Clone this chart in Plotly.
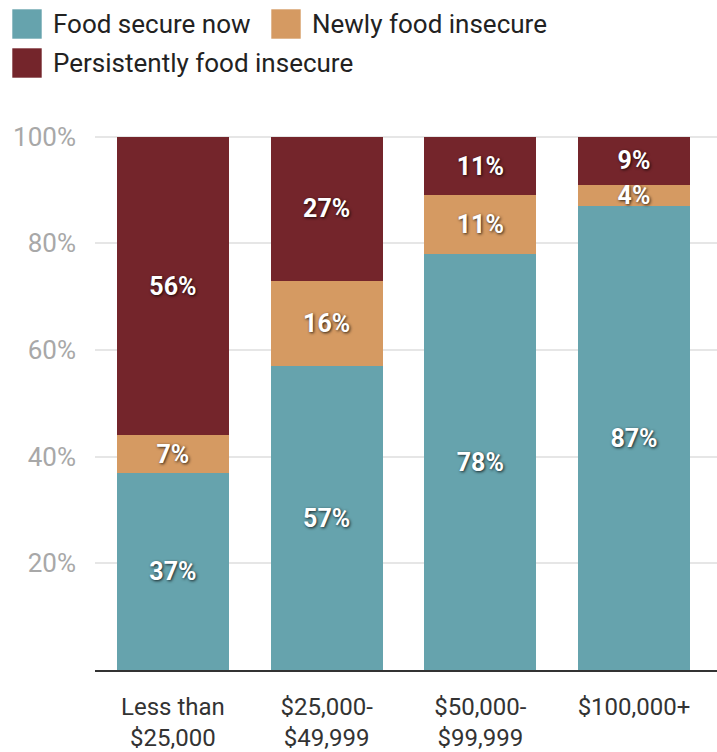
import plotly.graph_objects as go

# Income groups and food-security shares (percent of each group)
categories = ["Less than<br>$25,000", "$25,000-<br>$49,999", "$50,000-<br>$99,999", "$100,000+"]
food_secure_now = [37, 57, 78, 87]
newly_insecure = [7, 16, 11, 4]
persistently_insecure = [56, 27, 11, 9]

series_names = ["Food secure now", "Newly food insecure", "Persistently food insecure"]
series_values = [food_secure_now, newly_insecure, persistently_insecure]
series_colors = ["#66a3ad", "#d59a62", "#74252b"]

y_ticks = [20, 40, 60, 80, 100]
y_tick_labels = [f"{v}%" for v in y_ticks]

W, H = 717, 752
M_L, M_R, M_T, M_B = 95, 0, 126, 82
plot_w = W - M_L - M_R
plot_h = H - M_T - M_B

fig = go.Figure()
x_idx = list(range(len(categories)))
for name, vals, color in zip(series_names, series_values, series_colors):
    fig.add_trace(go.Bar(
        x=x_idx, y=vals, name=name,
        marker=dict(color=color, line=dict(width=0)),
        text=[f"{v}%" for v in vals],
        textposition="inside",
        insidetextanchor="middle",
        textangle=0,
        constraintext="none",
        textfont=dict(family="Roboto", size=25, color="white", weight="bold",
                      shadow="1px 1px 3px rgba(0,0,0,0.8)"),
        showlegend=False,
        hoverinfo="skip",
    ))


def px_to_paper_x(px):
    return (px - M_L) / plot_w


def px_to_paper_y(py):
    return (H - M_B - py) / plot_h


# Hand-built legend with large colour swatches
legend_slots = [(12, 9), (271, 9), (12, 48)]
shapes = []
annotations = []
for (sx, sy), name, color in zip(legend_slots, series_names, series_colors):
    shapes.append(dict(
        type="rect", xref="paper", yref="paper",
        x0=px_to_paper_x(sx), x1=px_to_paper_x(sx + 30),
        y0=px_to_paper_y(sy), y1=px_to_paper_y(sy + 30),
        fillcolor=color, line=dict(width=1, color="rgba(255,255,255,0.6)"),
    ))
    annotations.append(dict(
        xref="paper", yref="paper",
        x=px_to_paper_x(sx + 39), y=px_to_paper_y(sy + 15),
        xanchor="left", yanchor="middle", showarrow=False,
        text=name, font=dict(family="Roboto", size=26, color="#222222"),
    ))

fig.update_layout(
    width=W, height=H,
    margin=dict(l=M_L, r=M_R, t=M_T, b=M_B, autoexpand=False),
    barmode="stack",
    bargap=0.27,
    plot_bgcolor="white",
    paper_bgcolor="white",
    shapes=shapes,
    annotations=annotations,
    xaxis=dict(
        tickmode="array", tickvals=x_idx, ticktext=categories,
        range=[-0.507, 3.54],
        automargin=False,
        showgrid=False, zeroline=False,
        showline=True, linecolor="#333333", linewidth=2,
        ticks="", ticklabelstandoff=14,
        tickfont=dict(family="Roboto", size=24, color="#333333"),
        fixedrange=True,
    ),
    yaxis=dict(
        range=[0, 102],
        automargin=False,
        tickmode="array", tickvals=y_ticks, ticktext=y_tick_labels,
        showgrid=True, gridcolor="#e6e6e6", gridwidth=1.5,
        zeroline=False, showline=False, ticks="",
        ticklabelstandoff=18,
        tickfont=dict(family="Roboto", size=26, color="#a8a8a8"),
        fixedrange=True,
    ),
)

fig.write_html("out.html")
